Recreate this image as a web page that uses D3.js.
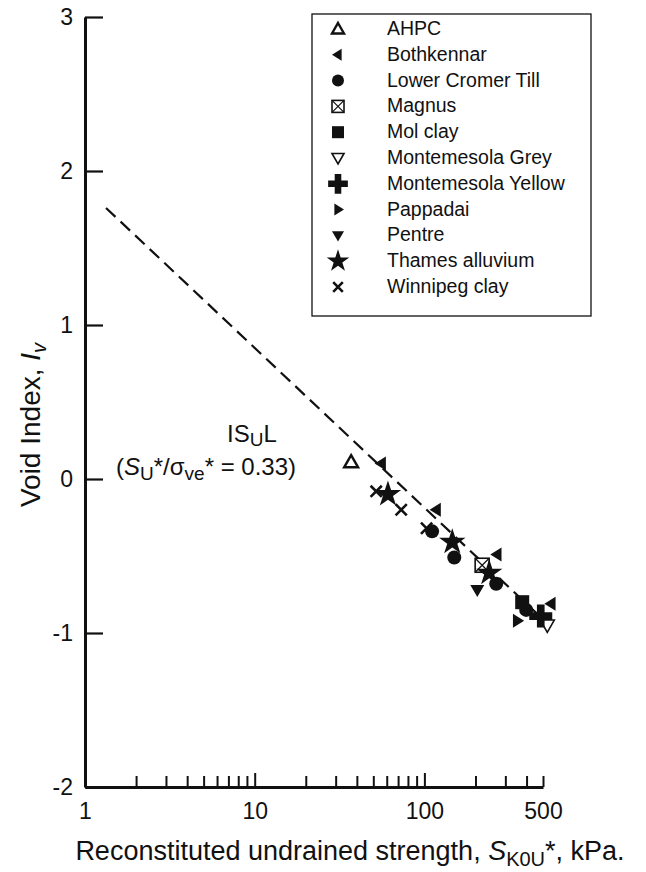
<!DOCTYPE html>
<html>
<head>
<meta charset="utf-8">
<script src="https://cdn.jsdelivr.net/npm/d3@7"></script>
<style>
  body { margin: 0; background: #fff; }
  svg text { font-family: "Liberation Sans", Arial, sans-serif; fill: #111; }
</style>
</head>
<body>
<div id="chart"></div>
<script>
// data
const soils = ["AHPC", "Bothkennar", "Lower Cromer Till", "Magnus", "Mol clay",
  "Montemesola Grey", "Montemesola Yellow", "Pappadai", "Pentre", "Thames alluvium", "Winnipeg clay"];
const symbols = ["triUpOpen", "triLeft", "circle", "boxX", "square",
  "triDownOpen", "plus", "triRight", "triDown", "star", "times"];

// strength S_K0U* (kPa) and void index Iv per soil
const strength = [
  [37],
  [56, 118, 269, 560],
  [111, 150, 265, 398],
  [219],
  [377],
  [530],
  [485],
  [352],
  [205],
  [61, 146, 241],
  [52, 73, 103]
];
const voidIndex = [
  [0.11],
  [0.10, -0.20, -0.49, -0.81],
  [-0.34, -0.51, -0.68, -0.85],
  [-0.56],
  [-0.80],
  [-0.95],
  [-0.89],
  [-0.92],
  [-0.72],
  [-0.10, -0.41, -0.61],
  [-0.08, -0.20, -0.32]
];

// ISUL dashed line end points
const lineS = [1.33, 545];
const lineIv = [1.76, -0.95];

const xTicks = [1, 2, 3, 4, 5, 6, 7, 8, 9, 10, 20, 30, 40, 50, 60, 70, 80, 90, 100, 200, 300, 400, 500];
const xLabels = [1, 10, 100, 500];
const yTicks = [-2, -1, 0, 1, 2, 3];

const W = 646, H = 872;
const svg = d3.select("#chart").append("svg")
  .attr("width", W).attr("height", H);

const x = d3.scaleLog().domain([1, 500]).range([85, 543]);
const y = d3.scaleLinear().domain([-2, 3]).range([787, 17]);

// axes
const xAxis = d3.axisBottom(x)
  .tickValues(xTicks)
  .tickSizeInner(-11)
  .tickSizeOuter(0)
  .tickPadding(16)
  .tickFormat(d => xLabels.includes(d) ? d : "");

const gx = svg.append("g")
  .attr("transform", `translate(0,${y(-2)})`)
  .call(xAxis);
gx.select(".domain").attr("stroke", "#111").attr("stroke-width", 3);
gx.selectAll(".tick line").attr("stroke", "#111").attr("stroke-width", 2)
  .attr("y2", d => (d === 10 || d === 100) ? -14 : -11);
gx.selectAll(".tick text").attr("font-size", 23).attr("fill", "#111");

const yAxis = d3.axisLeft(y)
  .tickValues(yTicks)
  .tickSizeInner(-18)
  .tickSizeOuter(0)
  .tickPadding(12)
  .tickFormat(d => String(d));

const gy = svg.append("g")
  .attr("transform", `translate(${x(1)},0)`)
  .call(yAxis);
gy.select(".domain").attr("stroke", "#111").attr("stroke-width", 3);
gy.selectAll(".tick line").attr("stroke", "#111").attr("stroke-width", 2.2);
gy.selectAll(".tick text").attr("font-size", 23).attr("fill", "#111");

// axis titles
const xt = svg.append("text")
  .attr("x", 350).attr("y", 860)
  .attr("text-anchor", "middle")
  .attr("font-size", 27);
xt.append("tspan").text("Reconstituted undrained strength, ");
xt.append("tspan").attr("font-style", "italic").text("S");
xt.append("tspan").attr("font-size", 20).attr("dy", 6).text("K0U");
xt.append("tspan").attr("dy", -6).text("*, kPa.");

const yt = svg.append("text")
  .attr("transform", "translate(40,425) rotate(-90)")
  .attr("text-anchor", "middle")
  .attr("font-size", 28);
yt.append("tspan").text("Void Index, ");
yt.append("tspan").attr("font-style", "italic").text("I");
yt.append("tspan").attr("font-style", "italic").attr("font-size", 20).attr("dy", 6).text("v");

// ISUL line
svg.append("path")
  .datum(d3.zip(lineS, lineIv))
  .attr("fill", "none")
  .attr("stroke", "#111")
  .attr("stroke-width", 2.2)
  .attr("stroke-dasharray", "13,7")
  .attr("d", d3.line().x(d => x(d[0])).y(d => y(d[1])));

// annotation
const a1 = svg.append("text").attr("x", 227).attr("y", 442).attr("font-size", 24);
a1.append("tspan").text("IS");
a1.append("tspan").attr("font-size", 19).attr("dy", 4).text("U");
a1.append("tspan").attr("dy", -4).text("L");

const a2 = svg.append("text").attr("x", 116).attr("y", 475).attr("font-size", 24);
a2.append("tspan").text("(");
a2.append("tspan").attr("font-style", "italic").text("S");
a2.append("tspan").attr("font-size", 19).attr("dy", 5).text("U");
a2.append("tspan").attr("dy", -5).text("*/σ");
a2.append("tspan").attr("font-size", 19).attr("dy", 5).text("ve");
a2.append("tspan").attr("dy", -5).text("* = 0.33)");

// marker drawing
function marker(g, type, s) {
  const h = s / 2;
  const tri = (pts) => "M" + pts.map(p => p.join(",")).join("L") + "Z";
  switch (type) {
    case "triUpOpen":
      g.append("path").attr("d", tri([[0, -h], [h, h * 0.75], [-h, h * 0.75]]))
        .attr("fill", "#fff").attr("stroke", "#111").attr("stroke-width", 2.4);
      break;
    case "triDownOpen":
      g.append("path").attr("d", tri([[0, h], [h, -h * 0.75], [-h, -h * 0.75]]))
        .attr("fill", "#fff").attr("stroke", "#111").attr("stroke-width", 1.6);
      break;
    case "triLeft":
      g.append("path").attr("d", tri([[-h, 0], [h * 0.6, -h], [h * 0.6, h]])).attr("fill", "#111");
      break;
    case "triRight":
      g.append("path").attr("d", tri([[h, 0], [-h * 0.6, -h], [-h * 0.6, h]])).attr("fill", "#111");
      break;
    case "triDown":
      g.append("path").attr("d", tri([[0, h], [h, -h * 0.7], [-h, -h * 0.7]])).attr("fill", "#111");
      break;
    case "circle":
      g.append("circle").attr("r", h).attr("fill", "#111");
      break;
    case "square":
      g.append("rect").attr("x", -h).attr("y", -h).attr("width", s).attr("height", s).attr("fill", "#111");
      break;
    case "boxX":
      g.append("rect").attr("x", -h).attr("y", -h).attr("width", s).attr("height", s)
        .attr("fill", "#fff").attr("stroke", "#111").attr("stroke-width", 1.6);
      g.append("path").attr("d", `M${-h},${-h}L${h},${h}M${h},${-h}L${-h},${h}`)
        .attr("stroke", "#111").attr("stroke-width", 1.2);
      break;
    case "plus":
      g.append("path").attr("d", d3.symbol(d3.symbolCross, s * s * 1.5)()).attr("fill", "#111");
      break;
    case "star":
      g.append("path").attr("d", d3.symbol(d3.symbolStar, s * s * 1.1)()).attr("fill", "#111");
      break;
    case "times":
      g.append("path").attr("d", `M${-h * 0.8},${-h * 0.8}L${h * 0.8},${h * 0.8}M${h * 0.8},${-h * 0.8}L${-h * 0.8},${h * 0.8}`)
        .attr("stroke", "#111").attr("stroke-width", 2.6);
      break;
  }
}

// data points
soils.forEach((name, i) => {
  strength[i].forEach((v, j) => {
    const g = svg.append("g")
      .attr("class", "pt")
      .attr("transform", `translate(${x(v)},${y(voidIndex[i][j])})`);
    marker(g, symbols[i], 14);
  });
});

// legend
const legend = svg.append("g");
legend.append("rect")
  .attr("x", 312).attr("y", 14).attr("width", 279).attr("height", 302)
  .attr("fill", "#fff").attr("stroke", "#111").attr("stroke-width", 1.3);

soils.forEach((name, i) => {
  const ry = 29 + i * 25.8;
  const g = legend.append("g").attr("transform", `translate(338,${ry})`);
  marker(g, symbols[i], 12);
  legend.append("text")
    .attr("x", 387).attr("y", ry + 6)
    .attr("font-size", 19.5)
    .text(name);
});
</script>
</body>
</html>
